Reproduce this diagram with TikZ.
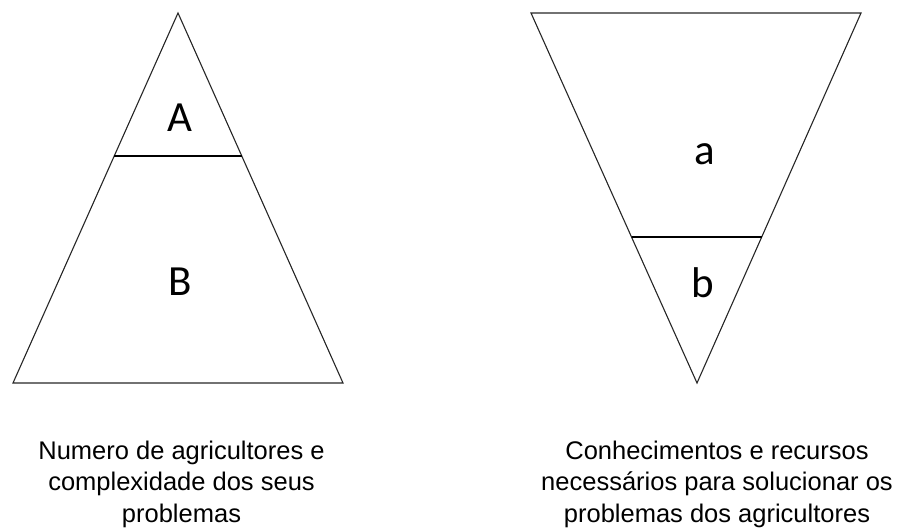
\documentclass[tikz,border=0pt]{standalone}
\usepackage{fontspec}
\setmainfont{Liberation Sans}
\newfontfamily\lblfont{Carlito}
\usetikzlibrary{calc}

\begin{document}
\begin{tikzpicture}[x=1pt,y=-1pt,
        tri/.style={draw=black!85,line width=1.1pt,line join=miter},
        divider/.style={draw=black,line width=2.4pt},
        lbl/.style={inner sep=0pt,anchor=base,font=\lblfont\fontsize{43}{43}\selectfont},
        caption/.style={inner sep=0pt,anchor=north,align=center,font=\fontsize{25.5}{31.5}\selectfont}]
        \useasboundingbox (0,0) rectangle (902,529);

        % left pyramid
        \coordinate (ltop)   at (178,13);
        \coordinate (lleft)  at (13,383);
        \coordinate (lright) at (343,383);
        \coordinate (lcutl)  at ($(ltop)!0.3865!(lleft)$);
        \coordinate (lcutr)  at ($(ltop)!0.3865!(lright)$);
        \draw[tri] (ltop) -- (lleft) -- (lright) -- cycle;
        \draw[divider] (lcutl) -- (lcutr);

        \node[lbl] (A) at (180,131.5) {A};
        \node[lbl] (B) at (180,295)   {B};

        % right pyramid, upside down
        \coordinate (rleft)  at (531,13);
        \coordinate (rright) at (861,13);
        \coordinate (rtip)   at (697,383);
        \coordinate (rcutl)  at ($(rleft)!0.6054!(rtip)$);
        \coordinate (rcutr)  at ($(rright)!0.6054!(rtip)$);
        \draw[tri] (rleft) -- (rright) -- (rtip) -- cycle;
        \draw[divider] (rcutl) -- (rcutr);

        \node[lbl] (a) at (705,165) {a};
        \node[lbl] (b) at (703,298) {b};

        % captions
        \node[caption] (capl) at (181.5,440.7)
            {Numero de agricultores e\\complexidade dos seus\\problemas};
        \node[caption] (capr) at (717,440.7)
            {Conhecimentos e recursos\\necessários para solucionar os\\problemas dos agricultores};
    \end{tikzpicture}
\end{document}
